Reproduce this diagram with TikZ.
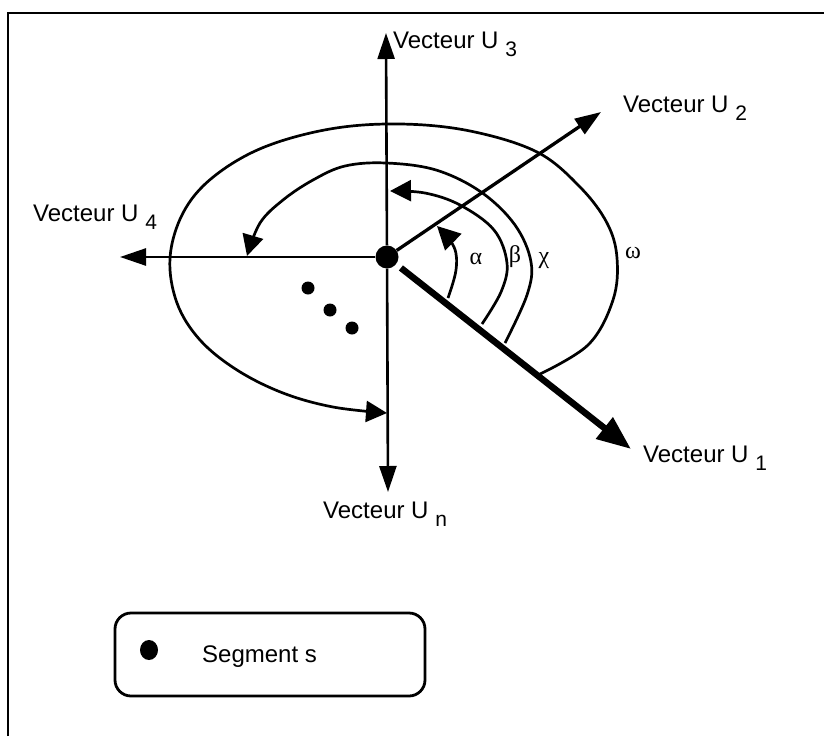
\documentclass[tikz,border=0pt]{standalone}
\usepackage{fontspec}
\setmainfont{Liberation Sans}
\newfontfamily\greekfont{Liberation Serif}
\usetikzlibrary{arrows.meta}
\newcommand\subx[1]{\raisebox{-8pt}{\fontsize{21}{21}\selectfont #1}}
\begin{document}
\begin{tikzpicture}[x=1pt,y=-1pt,
  axis/.style={line width=2.6pt,-{Triangle[length=26pt,width=17pt]}},
  arctip/.style={line width=2.7pt,-{Triangle[length=21pt,width=21pt]}},
  lbl/.style={inner sep=0pt,anchor=base west,font=\fontsize{24}{28}\selectfont},
  greek/.style={inner sep=0pt,font=\greekfont\fontsize{24}{28}\selectfont},
  smalldot/.style={circle,fill=black,inner sep=0pt,minimum size=13pt}]
\useasboundingbox (0,0) rectangle (824,736);
% frame
\draw[line width=2.8pt,line join=miter] (8,736) -- (8,13) -- (824,13);
% coordinates
\coordinate (U3) at (386,33);
\coordinate (Un) at (388,492);
\coordinate (U4) at (120,257);
\coordinate (U2) at (601,112);
\coordinate (U1) at (631,449);
% arcs
\draw[arctip,-{Triangle[length=23pt,width=23pt]}] plot[smooth,tension=0.6] coordinates {(448,298) (456,270) (454,247) (437,226)};
\draw[arctip] plot[smooth,tension=0.6] coordinates {(482,324) (501,292) (507,263) (494,230) (460,205) (425,193) (390,191)};
\draw[arctip] plot[smooth,tension=0.6] coordinates {(505,343) (527,295) (531,262) (515,225) (481,192) (436,170) (386,163) (345,166) (313,180) (283,200) (260,223) (247,256)};
\draw[arctip] plot[smooth,tension=0.6] coordinates {(536,376) (588,345) (613,300) (617,258) (607,223) (580,187) (537,152) (470,131) (400,124) (330,129) (262,148) (212,178) (183,213) (170,258) (177,303) (200,340) (237,370) (283,393) (333,407) (387,413)};
% centre
\node[circle,fill=black,inner sep=0pt,minimum size=23pt] (c) at (387,257) {};
% vectors
\draw[axis] (c) -- (U3);
\draw[axis] (c) -- (Un);
\draw[axis] (c) -- (U4);
\draw[line width=3.3pt,-{Triangle[length=26pt,width=18pt]}] (c) -- (U2);
\draw[line width=6.5pt,shorten <=6pt,-{Triangle[length=34pt,width=26pt]}] (c) -- (U1);
% dots
\node[smalldot] (d1) at (308,288) {};
\node[smalldot] (d2) at (330,310) {};
\node[smalldot] (d3) at (352,328) {};
% labels
\node[lbl] (l3) at (393,48) {Vecteur U \subx{3}};
\node[lbl] (l2) at (623,112) {Vecteur U \subx{2}};
\node[lbl] (l4) at (33,221) {Vecteur U \subx{4}};
\node[lbl] (l1) at (643,462) {Vecteur U \subx{1}};
\node[lbl] (ln) at (323,518) {Vecteur U \subx{n}};
\node[greek] (ga) at (476,259) {α};
\node[greek] (gb) at (515,257) {β};
\node[greek] (gc) at (544,261) {χ};
\node[greek] (gw) at (633,253) {ω};
% legend
\node[draw,line width=2.8pt,rounded corners=16pt,minimum width=310pt,minimum height=83pt,inner sep=0pt] (legend) at (270,654.5) {};
\fill (149,650) ellipse [x radius=9pt,y radius=10pt];
\node[lbl] (seg) at (202,662) {Segment s};
\end{tikzpicture}
\end{document}
